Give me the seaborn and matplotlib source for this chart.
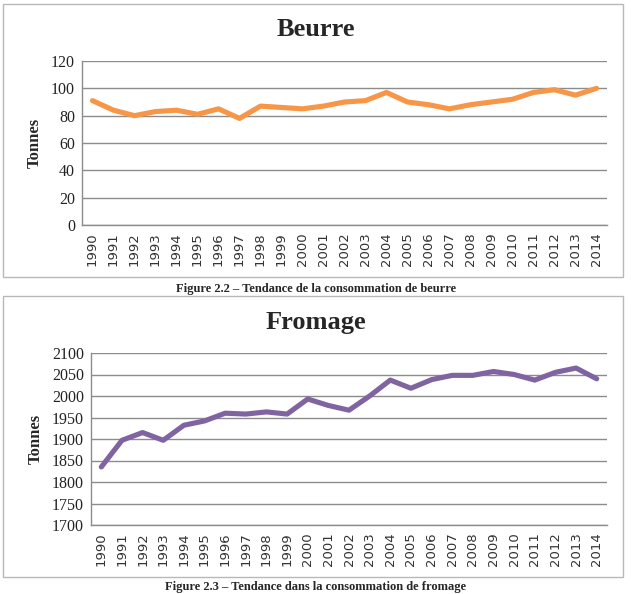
import pandas as pd
import matplotlib.pyplot as plt
import seaborn as sns
from matplotlib.patches import Rectangle

annees = [str(a) for a in range(1990, 2015)]
beurre = [91, 84, 80, 83, 84, 81, 85, 78, 87, 86, 85, 87, 90, 91, 97,
          90, 88, 85, 88, 90, 92, 97, 99, 95, 100]
fromage = [1835, 1897, 1915, 1897, 1932, 1942, 1960, 1958, 1963, 1958, 1993,
           1978, 1967, 2000, 2037, 2018, 2038, 2048, 2048, 2057, 2050, 2037,
           2055, 2065, 2040]

sns.set_theme(style="white")
plt.rcParams['font.family'] = ['Liberation Serif', 'DejaVu Serif']

W, H = 631, 594
fig = plt.figure(figsize=(W / 100, H / 100), dpi=100)


def px_axes(left, top, right, bottom):
    return fig.add_axes([left / W, 1 - bottom / H, (right - left) / W, (bottom - top) / H])


def panneau(ax, valeurs, couleur, titre, yticks, box, titre_y, caption, caption_y):
    df = pd.DataFrame({'Annee': annees, 'Valeur': valeurs})
    sns.lineplot(data=df, x='Annee', y='Valeur', ax=ax, color=couleur,
                 linewidth=3.7, solid_capstyle='round', solid_joinstyle='round')
    ax.set_xlim(-0.5, len(annees) - 0.5)
    ax.set_ylim(yticks[0], yticks[-1])
    ax.set_yticks(yticks)
    ax.set_yticklabels([str(v) for v in yticks], fontsize=11.5)
    ax.set_xticks(range(len(annees)))
    ax.set_xticklabels(annees, rotation=90, fontsize=9.5, family='DejaVu Sans')
    ax.tick_params(axis='y', length=0, pad=5, colors='#222222')
    ax.tick_params(axis='x', length=0, pad=5, colors='#333333')
    ax.yaxis.grid(True, color='#8c8c8c', linewidth=1)
    ax.set_axisbelow(True)
    for s in ['top', 'right']:
        ax.spines[s].set_visible(False)
    for s in ['left', 'bottom']:
        ax.spines[s].set_color('#8c8c8c')
        ax.spines[s].set_linewidth(1)
    ax.set_xlabel('')
    ax.set_ylabel('Tonnes', fontsize=12, fontweight='bold', labelpad=6)
    x0, y0, x1, y1 = box
    fig.add_artist(Rectangle((x0 / W, 1 - y1 / H), (x1 - x0) / W, (y1 - y0) / H,
                             transform=fig.transFigure, fill=False,
                             edgecolor='#b8b8b8', linewidth=1))
    fig.text(316 / W, 1 - titre_y / H, titre, ha='center', va='center',
             fontsize=19, fontweight='bold')
    fig.text(316 / W, 1 - caption_y / H, caption, ha='center', va='center',
             fontsize=9, fontweight='bold')


ax1 = px_axes(82, 61, 607, 225)
panneau(ax1, beurre, '#F79646', 'Beurre', [0, 20, 40, 60, 80, 100, 120],
        (3, 4, 623, 277), 30, 'Figure 2.2 – Tendance de la consommation de beurre', 289)

ax2 = px_axes(91, 353, 607, 525)
panneau(ax2, fromage, '#8064A2', 'Fromage',
        [1700, 1750, 1800, 1850, 1900, 1950, 2000, 2050, 2100],
        (3, 296, 623, 577), 322, 'Figure 2.3 – Tendance dans la consommation de fromage', 587)

fig.savefig('out.png', dpi=100, facecolor='white')
